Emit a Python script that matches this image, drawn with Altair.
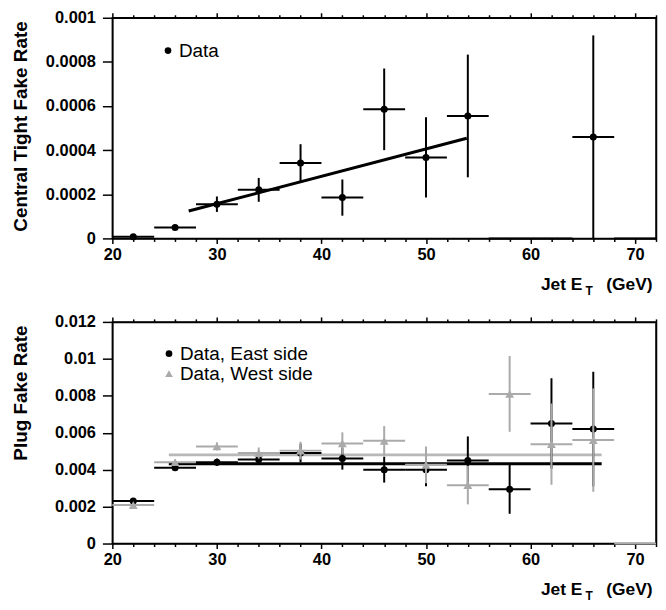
import altair as alt
import pandas as pd

# ---------------- data ----------------
# Top panel: central tight fake rate vs jet ET (4 GeV bins, centres)
top_et = [22, 26, 30, 34, 38, 42, 46, 50, 54, 58, 62, 66, 70]
top_rate = [0.000008, 0.000049, 0.000155, 0.00022, 0.000342, 0.000185,
            0.000585, 0.000367, 0.000555, 0.0, 0.0, 0.00046, 0.0]
top_err = [0.000004, 0.000006, 0.000035, 0.000054, 0.000085, 0.000082,
           0.000185, 0.000182, 0.000278, 0.0, 0.0, 0.00046, 0.0]
top_fit_et = [27.3, 53.9]
top_fit_rate = [0.000124, 0.000454]

# Bottom panel: plug fake rate, east and west sides
east_et = [22, 26, 30, 34, 38, 42, 46, 50, 54, 58, 62, 66]
east_rate = [0.0023, 0.0041, 0.0044, 0.00455, 0.0049, 0.0046,
             0.0040, 0.0040, 0.0045, 0.00294, 0.0065, 0.0062]
east_err = [0.00008, 0.0001, 0.0002, 0.00025, 0.0005, 0.0006,
            0.0007, 0.0009, 0.0013, 0.00133, 0.00245, 0.0031]
west_et = [22, 26, 30, 34, 38, 42, 46, 50, 54, 58, 62, 66, 70]
west_rate = [0.00208, 0.0044, 0.00526, 0.0049, 0.00503, 0.00542,
             0.00556, 0.00426, 0.00316, 0.0081, 0.00538, 0.0056, 0.0]
west_err = [0.0001, 0.00015, 0.00022, 0.0003, 0.00048, 0.0006,
            0.0008, 0.001, 0.00104, 0.00205, 0.0022, 0.0028, 0.0]
fit_et = [25.4, 66.8]
east_fit_rate = [0.00432, 0.00432]
west_fit_rate = [0.0048, 0.0048]

bin_half_width = 2  # GeV
x_tick_values = list(range(20, 73, 2))
top_y_ticks = [0, 0.0002, 0.0004, 0.0006, 0.0008, 0.001]
bot_y_ticks = [0, 0.002, 0.004, 0.006, 0.008, 0.01, 0.012]

# ---------------- styling ----------------
FONT = "Liberation Sans"
BLACK = "#000000"
GRAY = "#aaaaaa"
GRAY_FIT = "#b8b8b8"
W, H1, H2 = 547, 222, 223


def binned(et, rate, err):
    df = pd.DataFrame({"et": et, "rate": rate, "err": err})
    df["lo"] = df["et"] - bin_half_width
    df["hi"] = df["et"] + bin_half_width
    df["ylo"] = (df["rate"] - df["err"]).clip(lower=0)
    df["yhi"] = df["rate"] + df["err"]
    return df


major = "datum.value % 10 === 0"
xs = alt.Scale(domain=[20, 72], nice=False, zero=False)


def x_bottom():
    return alt.Axis(orient="bottom", values=x_tick_values,
                    labelExpr=f"{major} ? datum.label : ''",
                    tickSize=alt.condition(major, alt.value(5), alt.value(3)),
                    labelFlush=False, labelOverlap=False, labelPadding=3,
                    title=None)


def x_top():
    return alt.Axis(orient="top", values=x_tick_values, labels=False,
                    tickSize=alt.condition(major, alt.value(5), alt.value(3)),
                    title=None, minExtent=0)


def y_left(vals, title):
    return alt.Axis(orient="left", values=vals, format="~g", tickSize=10,
                    labelPadding=7, labelOverlap=False, labelFlush=False,
                    title=title, titleX=-86, titleY=3, titleAngle=270,
                    titleAlign="right", titleBaseline="alphabetic")


def y_right(vals):
    return alt.Axis(orient="right", values=vals, labels=False, ticks=False,
                    title=None, minExtent=0, maxExtent=0)


def series_layers(df, ys, color, shape, size, axes=None):
    xa = axes[0] if axes else None
    ya = axes[1] if axes else None
    h = alt.Chart(df).mark_rule(color=color, strokeWidth=2).encode(
        x=alt.X("lo:Q", scale=xs, axis=xa), x2="hi:Q",
        y=alt.Y("rate:Q", scale=ys, axis=ya))
    v = alt.Chart(df).transform_filter("datum.err > 0").mark_rule(
        color=color, strokeWidth=2).encode(
        x=alt.X("et:Q", scale=xs, axis=None),
        y=alt.Y("ylo:Q", scale=ys, axis=None), y2="yhi:Q")
    p = alt.Chart(df).transform_filter("datum.rate > 0").mark_point(
        shape=shape, filled=True, color=color, size=size, opacity=1).encode(
        x=alt.X("et:Q", scale=xs, axis=None),
        y=alt.Y("rate:Q", scale=ys, axis=None))
    return [h, v, p]


def xtitle_layers(h):
    base = dict(fontWeight="bold", font=FONT, color=BLACK, baseline="alphabetic")
    a = alt.Chart().mark_text(text="Jet E", align="right", fontSize=17.5, **base).encode(
        x=alt.value(W - 74), y=alt.value(h + 52))
    b = alt.Chart().mark_text(text="T", align="left", fontSize=12, **base).encode(
        x=alt.value(W - 71), y=alt.value(h + 57))
    c = alt.Chart().mark_text(text="(GeV)", align="left", fontSize=17.5, **base).encode(
        x=alt.value(W - 50), y=alt.value(h + 52))
    return [a, b, c]


def legend_entry(label, shape, color, size, px, py):
    m = alt.Chart().mark_point(shape=shape, filled=True, color=color, size=size,
                               opacity=1).encode(x=alt.value(px), y=alt.value(py))
    t = alt.Chart().mark_text(text=label, align="left", baseline="alphabetic",
                              fontSize=19, font=FONT, color=BLACK).encode(
        x=alt.value(px + 11), y=alt.value(py + 6))
    return [m, t]


# ---------------- top panel ----------------
ys_top = alt.Scale(domain=[0, 0.001], nice=False, zero=True)
top_df = binned(top_et, top_rate, top_err)
top_fit_df = pd.DataFrame({"et": top_fit_et, "rate": top_fit_rate})

t_fit = alt.Chart(top_fit_df).mark_line(color=BLACK, strokeWidth=3).encode(
    x=alt.X("et:Q", scale=xs, axis=x_top()),
    y=alt.Y("rate:Q", scale=ys_top, axis=y_right(top_y_ticks)))

top_layers = [t_fit] + series_layers(
    top_df, ys_top, BLACK, "circle", 50,
    axes=(x_bottom(), y_left(top_y_ticks, "Central Tight Fake Rate")))
top_layers += legend_entry("Data", "circle", BLACK, 45, 56, 33)
top_layers += xtitle_layers(H1)

top = alt.layer(*top_layers).resolve_axis(
    x="independent", y="independent").properties(width=W, height=H1)

# ---------------- bottom panel ----------------
ys_bot = alt.Scale(domain=[0, 0.012], nice=False, zero=True)
east_df = binned(east_et, east_rate, east_err)
west_df = binned(west_et, west_rate, west_err)
east_fit_df = pd.DataFrame({"et": fit_et, "rate": east_fit_rate})
west_fit_df = pd.DataFrame({"et": fit_et, "rate": west_fit_rate})

w_fit = alt.Chart(west_fit_df).mark_line(color=GRAY_FIT, strokeWidth=3).encode(
    x=alt.X("et:Q", scale=xs, axis=x_top()),
    y=alt.Y("rate:Q", scale=ys_bot, axis=y_right(bot_y_ticks)))
e_fit = alt.Chart(east_fit_df).mark_line(color=BLACK, strokeWidth=3).encode(
    x=alt.X("et:Q", scale=xs, axis=None),
    y=alt.Y("rate:Q", scale=ys_bot, axis=None))

bot_layers = [w_fit, e_fit]
bot_layers += series_layers(east_df, ys_bot, BLACK, "circle", 50,
                            axes=(x_bottom(), y_left(bot_y_ticks, "Plug Fake Rate")))
bot_layers += series_layers(west_df, ys_bot, GRAY, "triangle-up", 80)
bot_layers += legend_entry("Data, East side", "circle", BLACK, 45, 57, 32)
bot_layers += legend_entry("Data, West side", "triangle-up", GRAY, 60, 57, 52)
bot_layers += xtitle_layers(H2)

bottom = alt.layer(*bot_layers).resolve_axis(
    x="independent", y="independent").properties(width=W, height=H2)

chart = alt.vconcat(top, bottom, spacing=15).properties(
    padding={"left": 3, "top": -1, "right": 0, "bottom": -3}
).configure_view(stroke=BLACK, strokeWidth=1.5).configure_axis(
    labelFont=FONT, labelFontSize=16.5, labelFontWeight="bold", labelColor=BLACK,
    domainColor=BLACK, domainWidth=1.5, tickColor=BLACK, tickWidth=1.5,
    grid=False, titleFont=FONT, titleFontSize=19, titleFontWeight="bold",
    titleColor=BLACK)

chart.save("out.html", embed_options={"renderer": "svg", "actions": False})
